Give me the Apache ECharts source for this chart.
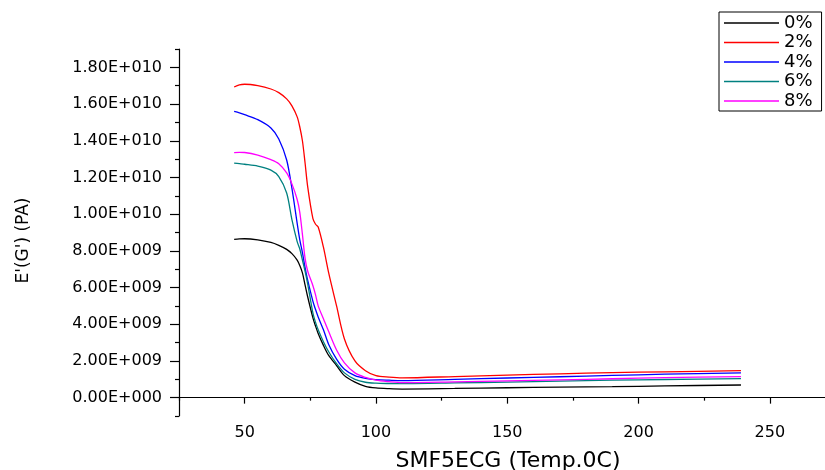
<!DOCTYPE html>
<html>
<head>
<meta charset="utf-8">
<script src="https://cdn.jsdelivr.net/npm/echarts@6/dist/echarts.min.js"></script>
<style>
  html, body { margin: 0; padding: 0; background: #fff; }
  #chart { width: 825px; height: 470px; }
</style>
</head>
<body>
<div id="chart"></div>
<script>
// temperature (x) shared by all curves
const temps = [46, 48, 50, 55, 60, 63, 66, 68, 70, 71, 72, 73, 74, 76, 77, 78, 80, 82, 85, 88, 92, 96, 100, 105, 110, 130, 150, 170, 190, 210, 239];

// storage modulus E'(G') in Pa
const e0 = [8.62e9, 8.65e9, 8.66e9, 8.6e9, 8.46e9, 8.3e9, 8.08e9, 7.85e9, 7.5e9, 7.2e9, 6.8e9, 6.15e9, 5.5e9, 4.35e9, 3.9e9, 3.5e9, 2.85e9, 2.3e9, 1.75e9, 1.2e9, 0.85e9, 0.62e9, 0.53e9, 0.49e9, 0.47e9, 0.5e9, 0.54e9, 0.57e9, 0.6e9, 0.64e9, 0.69e9];
const e2 = [16.93e9, 17.05e9, 17.08e9, 17.0e9, 16.82e9, 16.62e9, 16.28e9, 15.9e9, 15.3e9, 14.75e9, 14.0e9, 12.8e9, 11.5e9, 9.75e9, 9.45e9, 9.3e9, 8.2e9, 6.8e9, 5.0e9, 3.2e9, 2.0e9, 1.47e9, 1.2e9, 1.12e9, 1.08e9, 1.15e9, 1.23e9, 1.3e9, 1.36e9, 1.41e9, 1.47e9];
const e4 = [15.6e9, 15.52e9, 15.42e9, 15.15e9, 14.7e9, 14.1e9, 12.95e9, 11.4e9, 9.5e9, 8.6e9, 7.9e9, 7.1e9, 6.4e9, 5.25e9, 4.8e9, 4.4e9, 3.7e9, 2.9e9, 2.1e9, 1.55e9, 1.2e9, 1.05e9, 0.98e9, 0.95e9, 0.93e9, 1.0e9, 1.07e9, 1.14e9, 1.21e9, 1.28e9, 1.35e9];
const e6 = [12.78e9, 12.75e9, 12.72e9, 12.62e9, 12.4e9, 12.05e9, 11.15e9, 9.7e9, 8.5e9, 8.1e9, 7.5e9, 6.9e9, 6.2e9, 4.6e9, 4.1e9, 3.7e9, 3.05e9, 2.5e9, 1.85e9, 1.35e9, 1.0e9, 0.84e9, 0.79e9, 0.77e9, 0.76e9, 0.8e9, 0.85e9, 0.9e9, 0.95e9, 0.99e9, 1.04e9];
const e8 = [13.35e9, 13.37e9, 13.36e9, 13.22e9, 12.97e9, 12.75e9, 12.25e9, 11.65e9, 10.8e9, 10.1e9, 8.9e9, 7.6e9, 6.9e9, 6.1e9, 5.6e9, 5.0e9, 4.3e9, 3.6e9, 2.6e9, 1.9e9, 1.35e9, 1.1e9, 0.95e9, 0.87e9, 0.82e9, 0.86e9, 0.91e9, 0.97e9, 1.03e9, 1.09e9, 1.15e9];

const seriesNames = ['0%', '2%', '4%', '6%', '8%'];
const seriesValues = [e0, e2, e4, e6, e8];
const seriesColors = ['#000000', '#ff0000', '#0000ff', '#008080', '#ff00ff'];

// ticks
const xTicks = [50, 100, 150, 200, 250];
const xMinorTicks = [25, 75, 125, 175, 225];
const yTicks = [0, 2e9, 4e9, 6e9, 8e9, 1e10, 1.2e10, 1.4e10, 1.6e10, 1.8e10];
const yMinorTicks = [-1e9, 1e9, 3e9, 5e9, 7e9, 9e9, 1.1e10, 1.3e10, 1.5e10, 1.7e10, 1.9e10];

const FONT = 'DejaVu Sans';

// Origin style: 1.80E+010
function sci(v) {
  if (v === 0) return '0.00E+000';
  const e = Math.floor(Math.log10(Math.abs(v)) + 1e-9);
  const m = v / Math.pow(10, e);
  return m.toFixed(2) + 'E+' + String(e).padStart(3, '0');
}

const chart = echarts.init(document.getElementById('chart'));

const axisLine = { show: true, lineStyle: { color: '#000', width: 1.2 } };

const option = {
  animation: false,
  backgroundColor: '#fff',
  legend: {
    data: seriesNames,
    orient: 'vertical',
    left: 719,
    top: 12,
    padding: [2, 9, 1, 5],
    icon: 'rect',
    itemWidth: 55,
    itemHeight: 1.3,
    itemGap: 1.5,
    borderColor: '#000',
    borderWidth: 1,
    textStyle: { fontFamily: FONT, fontSize: 18, color: '#000', lineHeight: 18 },
  },
  grid: {
    left: 179,
    right: 0,
    top: 49,
    bottom: 54,
    outerBoundsMode: 'none',
  },
  xAxis: [
    {
      type: 'value',
      min: 25,
      max: 271,
      name: 'SMF5ECG (Temp.0C)',
      nameLocation: 'middle',
      nameGap: 34,
      nameTextStyle: { fontFamily: FONT, fontSize: 22, color: '#000', padding: [0, 0, 0, 12] },
      axisLine: axisLine,
      axisTick: { show: true, length: 6, customValues: xTicks, lineStyle: { color: '#000', width: 1.2 } },
      axisLabel: { customValues: xTicks, margin: 9, fontFamily: FONT, fontSize: 16, color: '#000' },
      splitLine: { show: false },
    },
    {
      type: 'value',
      min: 25,
      max: 271,
      position: 'bottom',
      axisLine: { show: false },
      axisTick: { show: true, length: 3, customValues: xMinorTicks, lineStyle: { color: '#000', width: 1.2 } },
      axisLabel: { show: false },
      splitLine: { show: false },
    },
  ],
  yAxis: [
    {
      type: 'value',
      min: -1e9,
      max: 1.9e10,
      name: "E'(G') (PA)",
      nameLocation: 'middle',
      nameGap: 147,
      nameTextStyle: { fontFamily: FONT, fontSize: 17, color: '#000', padding: [0, 16, 0, 0] },
      axisLine: axisLine,
      axisTick: { show: true, length: 9, customValues: yTicks, lineStyle: { color: '#000', width: 1.2 } },
      axisLabel: { customValues: yTicks, margin: 17, fontFamily: FONT, fontSize: 16, color: '#000', formatter: sci },
      splitLine: { show: false },
    },
    {
      type: 'value',
      min: -1e9,
      max: 1.9e10,
      position: 'left',
      axisLine: { show: false },
      axisTick: { show: true, length: 4, customValues: yMinorTicks, lineStyle: { color: '#000', width: 1.2 } },
      axisLabel: { show: false },
      splitLine: { show: false },
    },
  ],
  series: seriesNames.map((name, k) => ({
    name: name,
    type: 'line',
    xAxisIndex: 0,
    yAxisIndex: 0,
    data: temps.map((t, i) => [t, seriesValues[k][i]]),
    symbol: 'none',
    smooth: 0.3,
    lineStyle: { color: seriesColors[k], width: 1.3 },
    itemStyle: { color: seriesColors[k] },
  })),
};

chart.setOption(option);
</script>
</body>
</html>
